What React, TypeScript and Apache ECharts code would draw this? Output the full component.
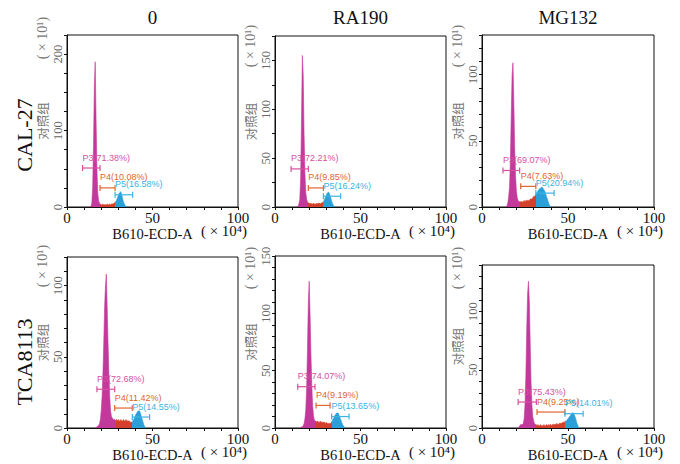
import React, { useEffect, useRef } from 'react';
import * as echarts from 'echarts';

const rowLabels = ['CAL-27', 'TCA8113'];
const colLabels = ['0', 'RA190', 'MG132'];
const xTickLabels = [0, 50, 100];

const binStep = 0.5;
const histStart = [13.5, 13, 14, 17, 15, 21];

const histCAL27_0 = [0, 1, 5, 25, 80, 160, 190, 115, 50, 18, 8, 5, 4, 3, 3, 4, 3, 3, 3, 3, 4, 3, 3, 4, 3, 4, 4, 4, 5, 6, 7, 9, 12, 15, 18, 19, 20, 16, 11, 7, 4, 2, 1, 0];
const histCAL27_RA190 = [0, 1, 3, 8, 30, 90, 155, 135, 75, 35, 15, 8, 5, 4, 4, 3, 4, 3, 3, 4, 3, 3, 3, 4, 3, 4, 4, 3, 4, 4, 5, 6, 8, 10, 12, 14, 15, 15, 13, 10, 7, 4, 2, 1, 0];
const histCAL27_MG132 = [0, 1, 3, 8, 15, 35, 70, 100, 109, 80, 45, 24, 12, 7, 5, 4, 4, 4, 4, 4, 4, 5, 4, 5, 5, 5, 5, 5, 6, 6, 6, 7, 8, 8, 9, 10, 11, 12, 13, 14, 14, 15, 15, 14, 13, 12, 10, 8, 6, 4, 2, 1, 0];
const histTCA8113_0 = [0, 1, 1, 2, 3, 6, 12, 22, 38, 60, 85, 100, 108, 85, 60, 38, 22, 12, 8, 7, 6, 6, 6, 5, 6, 5, 6, 5, 5, 6, 5, 5, 6, 5, 5, 6, 5, 5, 5, 5, 4, 4, 4, 5, 6, 7, 9, 10, 11, 12, 12, 12, 10, 8, 6, 4, 2, 1, 0];
const histTCA8113_RA190 = [0, 1, 1, 2, 4, 8, 16, 35, 70, 110, 128, 100, 65, 38, 20, 11, 7, 6, 6, 5, 6, 5, 5, 6, 5, 5, 5, 5, 5, 4, 5, 4, 4, 4, 4, 4, 5, 6, 8, 9, 11, 12, 13, 13, 13, 11, 9, 7, 5, 3, 2, 1, 0];
const histTCA8113_MG132 = [0, 1, 2, 3, 3, 3, 4, 8, 20, 45, 85, 115, 126, 110, 75, 40, 20, 10, 6, 4, 3, 3, 2, 3, 2, 2, 3, 2, 2, 2, 3, 2, 2, 3, 2, 3, 2, 3, 3, 2, 3, 3, 3, 3, 3, 4, 3, 3, 4, 4, 4, 4, 5, 5, 5, 6, 6, 7, 8, 9, 10, 11, 12, 13, 13, 12, 10, 8, 5, 3, 1, 0];

const histograms = [histCAL27_0, histCAL27_RA190, histCAL27_MG132, histTCA8113_0, histTCA8113_RA190, histTCA8113_MG132];

// gates: [start, end, height]
const gateP3 = [[9.1, 19.3, 51], [9.4, 19.5, 39], [12.2, 21.9, 27.6], [17.5, 27.9, 27.2], [13.3, 23.4, 36], [21, 31.6, 22.3]];
const gateP4 = [[19.3, 28.1, 25], [19.5, 28.3, 19.5], [22.5, 31.3, 15.6], [27.9, 38.2, 14], [24, 32.2, 19.7], [32, 48.2, 13.7]];
const gateP5 = [[28.1, 38.4, 16], [28.3, 38.4, 11], [31.3, 41.9, 10.5], [38.2, 48.3, 7.7], [33.1, 43.3, 10], [48.2, 58.8, 12.3]];
const pctP3 = ['71.38', '72.21', '69.07', '72.68', '74.07', '75.43'];
const pctP4 = ['10.08', '9.85', '7.63', '11.42', '9.19', '9.25'];
const pctP5 = ['16.58', '16.24', '20.94', '14.55', '13.65', '14.01'];

const yMax = [225, 175, 130, 120, 150, 140];
const yTickStep = [25, 25, 10, 10, 10, 10];
const yLabelStep = [100, 50, 50, 50, 50, 50];

// layout (pixels)
const grids = [
  { left: 67, top: 35, width: 171, height: 172 },
  { left: 275, top: 36, width: 171, height: 171 },
  { left: 482, top: 35, width: 172, height: 172 },
  { left: 67, top: 257, width: 171, height: 171 },
  { left: 275, top: 256, width: 171, height: 172 },
  { left: 482, top: 265, width: 172, height: 163 },
];
const yUnitY = [38, 46, 46, 266, 268, 268];

const FILL = ['#c2399b', '#d5402c', '#2a9fd8'];
const GATE = ['#d6509f', '#e0652f', '#3cb3e2'];
const SERIF = 'Liberation Serif, DejaVu Serif, serif';
const SANS = 'Liberation Sans, Arial, sans-serif';

export default function App() {
  const ref = useRef<HTMLDivElement>(null);
  useEffect(() => {
    if (!ref.current) return;
    const chart = echarts.init(ref.current, null, { renderer: 'svg' });
    const gridOpt: any[] = [];
    const xAxes: any[] = [];
    const yAxes: any[] = [];
    const series: any[] = [];
    const visualMaps: any[] = [];
    const graphics: any[] = [];

    for (let i = 0; i < 6; i++) {
      const g = grids[i];
      gridOpt.push({ ...g, show: true, borderColor: '#111', borderWidth: 1, backgroundColor: 'transparent', containLabel: false });
      xAxes.push({
        gridIndex: i, type: 'value', min: 0, max: 100, interval: 10,
        name: 'B610-ECD-A', nameLocation: 'middle', nameGap: 19,
        nameTextStyle: { fontFamily: SERIF, fontSize: 14.5, color: '#111' },
        axisLine: { show: true, onZero: false, lineStyle: { color: '#111', width: 1 } },
        axisTick: { show: true, length: 3, inside: false, lineStyle: { color: '#111' } },
        axisLabel: {
          margin: 3, fontFamily: SERIF, fontSize: 15, color: '#111',
          formatter: (v: number) => (xTickLabels.includes(v) ? String(v) : ''),
        },
        splitLine: { show: false },
      });
      const ls = yLabelStep[i];
      yAxes.push({
        gridIndex: i, type: 'value', min: 0, max: yMax[i], interval: yTickStep[i],
        name: '对照组', nameLocation: 'middle', nameGap: 18,
        nameTextStyle: { fontFamily: 'Noto Sans CJK SC', fontSize: 12.5, color: '#777' },
        axisLine: { show: true, onZero: false, lineStyle: { color: '#111', width: 1 } },
        axisTick: { show: true, length: 3, inside: false, lineStyle: { color: '#111' } },
        axisLabel: {
          rotate: 90, margin: 3, fontFamily: SERIF, fontSize: 12.5, color: '#666',
          formatter: (v: number) => (v % ls === 0 ? String(v) : ''),
        },
        splitLine: { show: false },
      });
      const hist = histograms[i];
      const pts = hist.map((c, k) => [histStart[i] + k * binStep, c]);
      series.push({
        type: 'line', xAxisIndex: i, yAxisIndex: i, data: pts, symbol: 'none', silent: true,
        lineStyle: { width: 0.6 }, areaStyle: { opacity: 1 }, z: 2,
      });
      const gates = [gateP3[i], gateP4[i], gateP5[i]];
      const labels = [`P3(${pctP3[i]}%)`, `P4(${pctP4[i]}%)`, `P5(${pctP5[i]}%)`];
      series.push({
        type: 'custom', xAxisIndex: i, yAxisIndex: i, silent: true, z: 5, clip: false,
        data: gates.map((gt, k) => [gt[0], gt[1], gt[2], k]),
        renderItem: (params: any, api: any) => {
          const k = api.value(3);
          const p1 = api.coord([api.value(0), api.value(2)]);
          const p2 = api.coord([api.value(1), api.value(2)]);
          const c = GATE[k];
          const st = { stroke: c, lineWidth: 1.2 };
          return {
            type: 'group',
            children: [
              { type: 'line', shape: { x1: p1[0], y1: p1[1], x2: p2[0], y2: p2[1] }, style: st },
              { type: 'line', shape: { x1: p1[0], y1: p1[1] - 3, x2: p1[0], y2: p1[1] + 3 }, style: st },
              { type: 'line', shape: { x1: p2[0], y1: p2[1] - 3, x2: p2[0], y2: p2[1] + 3 }, style: st },
              {
                type: 'text', x: p1[0], y: p1[1] - 6,
                style: { text: labels[k], fill: c, fontSize: 9, fontFamily: SANS, align: 'left', verticalAlign: 'bottom' },
              },
            ],
          };
        },
      });
      visualMaps.push({
        type: 'piecewise', show: false, seriesIndex: 2 * i, dimension: 0,
        pieces: [
          { gte: 0, lt: gateP3[i][1], color: FILL[0] },
          { gte: gateP3[i][1], lt: gateP5[i][0], color: FILL[1] },
          { gte: gateP5[i][0], lte: 100, color: FILL[2] },
        ],
      });
      graphics.push({
        type: 'text', x: g.left - 25, y: yUnitY[i], rotation: Math.PI / 2,
        style: { text: '( × 10¹)', fill: '#777', fontSize: 14, fontFamily: SERIF, align: 'center', verticalAlign: 'middle', textAlign: 'center', textVerticalAlign: 'middle' },
      });
      graphics.push({
        type: 'text', x: g.left + g.width - 14, y: g.top + g.height + 24,
        style: { text: '( × 10⁴)', fill: '#111', fontSize: 15, fontFamily: SERIF, align: 'center', verticalAlign: 'middle', textAlign: 'center', textVerticalAlign: 'middle' },
      });
    }
    const colX = [152.5, 360.5, 568];
    colLabels.forEach((t, c) => {
      graphics.push({
        type: 'text', x: colX[c], y: 17,
        style: { text: t, fill: '#111', fontSize: 19, fontFamily: SERIF, align: 'center', verticalAlign: 'middle', textAlign: 'center', textVerticalAlign: 'middle' },
      });
    });
    const rowY = [135, 362];
    rowLabels.forEach((t, r) => {
      graphics.push({
        type: 'text', x: 24, y: rowY[r], rotation: Math.PI / 2,
        style: { text: t, fill: '#111', fontSize: 22, fontFamily: SERIF, align: 'center', verticalAlign: 'middle', textAlign: 'center', textVerticalAlign: 'middle' },
      });
    });

    chart.setOption({
      animation: false,
      backgroundColor: '#fff',
      grid: gridOpt,
      xAxis: xAxes,
      yAxis: yAxes,
      visualMap: visualMaps,
      series,
      graphic: graphics,
    });
    return () => chart.dispose();
  }, []);
  return <div ref={ref} style={{ position: 'absolute', left: 0, top: 0, width: 680, height: 464 }} />;
}
